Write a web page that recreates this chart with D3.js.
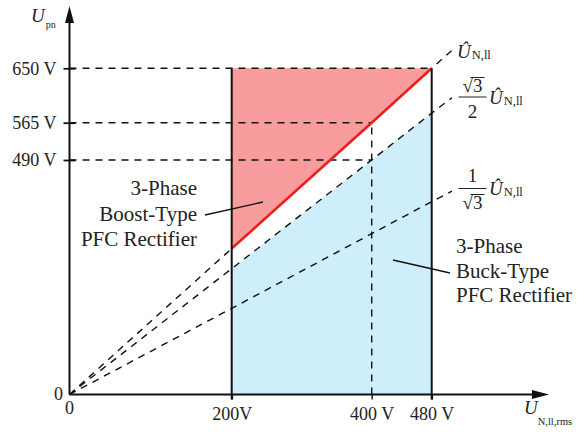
<!DOCTYPE html>
<meta charset="utf-8">
<head>
  <style>
    body { margin: 0; background: #fff; }
    svg text { font-family: "Liberation Serif", "Times New Roman", Times, "DejaVu Serif", serif; }
    .tick-label { font-size: 18px; fill: #222; }
    .note { font-size: 21px; fill: #222; }
    .dash { fill: none; stroke: #111; stroke-width: 1.4; stroke-dasharray: 7,6; }
    .solid { fill: none; stroke: #111; stroke-width: 2; }
  </style>
  <script src="https://cdn.jsdelivr.net/npm/d3@7"></script>
</head>
<body>
  <div id="viz"></div>
</body>
<script>
// tick values and their labels
var xTicks = [200, 400, 480];
var xTickLabels = ["200V", "400 V", "480 V"];
var yTicks = [490, 565, 650];
var yTickLabels = ["490 V", "565 V", "650 V"];
var guideEnds = [400, 400, 480];   // how far each horizontal guide runs in x

var xSamples = [0, 200, 400, 480, 507];
var lineFull = [0, 305, 565, 650, 678];   // U_N,ll peak
var lineMid = [0, 263, 490, 580, 604];    // sqrt3/2 * peak
var lineLow = [0, 180, 336, 403, 425];    // 1/sqrt3 * peak

var regionMin = 200, regionMax = 480;

var width = 586, height = 432;
var serif = '"Liberation Serif", "Times New Roman", Times, "DejaVu Serif", serif';

var svg = d3.select("#viz").append("svg")
    .attr("width", width)
    .attr("height", height)
    .attr("font-family", serif);

// the drawing is not to scale, so the axes are piecewise
var x = d3.scaleLinear()
    .domain([0].concat(xTicks))
    .range([69.5, 231.7, 371.7, 431.7]);

var y = d3.scaleLinear()
    .domain([0].concat(yTicks))
    .range([394.5, 160, 122.7, 68.3]);

function pts(values) {
  return xSamples.map(function(xv, i) { return [xv, values[i]]; });
}
function inRegion(p) { return p[0] >= regionMin && p[0] <= regionMax; }

var line = d3.line()
    .x(function(d) { return x(d[0]); })
    .y(function(d) { return y(d[1]); });

// boost region (above the peak line)
svg.append("path")
    .datum(pts(lineFull).filter(inRegion))
    .attr("fill", "#f99c9d")
    .attr("d", d3.area()
      .x(function(d) { return x(d[0]); })
      .y0(y(yTicks[2]))
      .y1(function(d) { return y(d[1]); }));

// buck region (below sqrt3/2 line)
svg.append("path")
    .datum(pts(lineMid).filter(inRegion))
    .attr("fill", "#cdeefa")
    .attr("d", d3.area()
      .x(function(d) { return x(d[0]); })
      .y0(y(0))
      .y1(function(d) { return y(d[1]); }));

// horizontal guides
svg.selectAll(".hguide")
  .data(yTicks)
  .enter()
  .append("line")
    .attr("class", "dash")
    .attr("x1", x(0))
    .attr("x2", function(d, i) { return x(guideEnds[i]); })
    .attr("y1", function(d) { return y(d); })
    .attr("y2", function(d) { return y(d); });

// vertical guide at 400 V
svg.append("line")
    .attr("class", "dash")
    .attr("x1", x(xTicks[1])).attr("x2", x(xTicks[1]))
    .attr("y1", y(0)).attr("y2", y(yTicks[1]));

// diagonal lines
[lineFull, lineMid, lineLow].forEach(function(vals) {
  svg.append("path")
      .attr("class", "dash")
      .attr("d", line(pts(vals)));
});

// red boundary line
svg.append("path")
    .attr("fill", "none")
    .attr("stroke", "#e8221f")
    .attr("stroke-width", 2.6)
    .attr("d", line(pts(lineFull).filter(inRegion)));

// region side walls
[regionMin, regionMax].forEach(function(v) {
  svg.append("line")
      .attr("class", "solid")
      .attr("x1", x(v)).attr("x2", x(v))
      .attr("y1", y(0) + 5).attr("y2", y(yTicks[2]));
});

// axes
var yAxis = svg.append("g")
    .attr("transform", "translate(" + x(0) + ",0)")
    .call(d3.axisLeft(y)
      .tickValues(yTicks)
      .tickSize(6)
      .tickPadding(7)
      .tickFormat(function(d, i) { return yTickLabels[i]; }));
yAxis.attr("font-family", serif).attr("font-size", null);
yAxis.select(".domain").remove();
yAxis.selectAll(".tick line").attr("x1", 6).attr("stroke", "#111").attr("stroke-width", 1.8);
yAxis.selectAll(".tick text").attr("class", "tick-label");

var xAxis = svg.append("g")
    .attr("transform", "translate(0," + y(0) + ")")
    .call(d3.axisBottom(x)
      .tickValues(xTicks)
      .tickSize(5)
      .tickFormat(function(d, i) { return xTickLabels[i]; }));
xAxis.attr("font-family", serif).attr("font-size", null);
xAxis.select(".domain").remove();
xAxis.selectAll(".tick line").attr("stroke", "#111").attr("stroke-width", 1.8);
xAxis.selectAll(".tick line").filter(function(d) { return d === xTicks[1]; })
    .attr("stroke-dasharray", "6,6").attr("stroke-width", 1.4);
xAxis.selectAll(".tick text").attr("class", "tick-label")
    .attr("y", 25).attr("dy", 0);

// axis lines with arrows
svg.append("line").attr("class", "solid")
    .attr("x1", x(0)).attr("x2", x(0)).attr("y1", y(0)).attr("y2", 20);
svg.append("path").attr("fill", "#111")
    .attr("d", "M" + x(0) + ",6 L" + (x(0) - 4.5) + ",23 L" + (x(0) + 4.5) + ",23 Z");
svg.append("line").attr("class", "solid")
    .attr("x1", x(0)).attr("x2", 536).attr("y1", y(0)).attr("y2", y(0));
svg.append("path").attr("fill", "#111")
    .attr("d", "M549," + y(0) + " L532," + (y(0) - 4.5) + " L532," + (y(0) + 4.5) + " Z");

// origin labels
svg.append("text").attr("class", "tick-label").attr("x", 63).attr("y", 400)
    .attr("text-anchor", "end").text("0");
svg.append("text").attr("class", "tick-label").attr("x", x(0)).attr("y", 414)
    .attr("text-anchor", "middle").text("0");

// axis titles
var yt = svg.append("text").attr("x", 31).attr("y", 22).attr("fill", "#222");
yt.append("tspan").attr("font-style", "italic").attr("font-size", 19).text("U");
yt.append("tspan").attr("font-size", 10).attr("dx", 1).attr("dy", 6).text("pn");

var xt = svg.append("text").attr("x", 524).attr("y", 414).attr("fill", "#222");
xt.append("tspan").attr("font-style", "italic").attr("font-size", 19).text("U");
xt.append("tspan").attr("font-size", 10.5).attr("dx", 0).attr("dy", 11).text("N,ll,rms");

// line labels
function peakLabel(px, py) {
  var t = svg.append("text").attr("x", px).attr("y", py).attr("fill", "#222");
  t.append("tspan").attr("font-style", "italic").attr("font-size", 19).text("\u00db");
  t.append("tspan").attr("font-size", 12.5).attr("dx", 1).attr("dy", 1).text("N,ll");
}
function radical(cx, baseline) {
  svg.append("text").attr("x", cx).attr("y", baseline).attr("text-anchor", "middle")
      .attr("font-size", 19).attr("fill", "#222").text("\u221a3");
  svg.append("line").attr("stroke", "#222").attr("stroke-width", 1)
      .attr("x1", cx - 2).attr("x2", cx + 12).attr("y1", baseline - 14.5).attr("y2", baseline - 14.5);
}
function fracBar(cx, by) {
  svg.append("line").attr("stroke", "#222").attr("stroke-width", 1)
      .attr("x1", cx - 14).attr("x2", cx + 14).attr("y1", by).attr("y2", by);
}

peakLabel(457, 58);

radical(472.5, 92);
fracBar(472.5, 97);
svg.append("text").attr("x", 472.5).attr("y", 118).attr("text-anchor", "middle")
    .attr("font-size", 19).attr("fill", "#222").text("2");
peakLabel(489, 104);

svg.append("text").attr("x", 472.5).attr("y", 182).attr("text-anchor", "middle")
    .attr("font-size", 19).attr("fill", "#222").text("1");
fracBar(472.5, 188.5);
radical(472.5, 209);
peakLabel(489, 195);

// region notes
var boost = ["3-Phase", "Boost-Type", "PFC Rectifier"];
var buck = ["3-Phase", "Buck-Type", "PFC Rectifier"];

svg.selectAll(".boost-note")
  .data(boost)
  .enter()
  .append("text")
    .attr("class", "note")
    .attr("x", 197)
    .attr("y", function(d, i) { return 195 + i * 25.5; })
    .attr("text-anchor", "end")
    .text(function(d) { return d; });

svg.selectAll(".buck-note")
  .data(buck)
  .enter()
  .append("text")
    .attr("class", "note")
    .attr("x", 456)
    .attr("y", function(d, i) { return 253 + i * 24.5; })
    .text(function(d) { return d; });

// leader lines
svg.append("line").attr("stroke", "#111").attr("stroke-width", 1.3)
    .attr("x1", 205).attr("y1", 215).attr("x2", 263).attr("y2", 202);
svg.append("line").attr("stroke", "#111").attr("stroke-width", 1.3)
    .attr("x1", 393).attr("y1", 260).attr("x2", 450).attr("y2", 273);
</script>
